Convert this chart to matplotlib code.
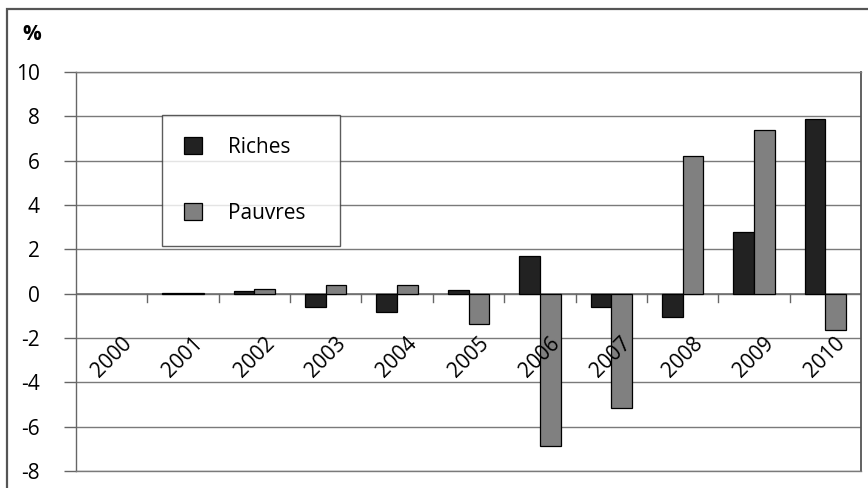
import matplotlib
matplotlib.use("Agg")
import matplotlib.pyplot as plt
from matplotlib.patches import Rectangle, Patch
import numpy as np

plt.rcParams['font.family'] = ['Open Sans', 'DejaVu Sans']
plt.rcParams['axes.unicode_minus'] = False

years = ["2000", "2001", "2002", "2003", "2004", "2005",
         "2006", "2007", "2008", "2009", "2010"]
riches = [np.nan, 0.02, 0.1, -0.6, -0.84, 0.15, 1.71, -0.62, -1.05, 2.78, 7.88]
pauvres = [np.nan, 0.05, 0.2, 0.4, 0.38, -1.37, -6.88, -5.18, 6.19, 7.39, -1.65]
series_names = ["Riches", "Pauvres"]
colors = ["#222222", "#808080"]

W, H = 868, 488
FS = 15
fig = plt.figure(figsize=(W / 100, H / 100), dpi=100)

# outer chart frame (runs off the right and bottom edges)
fig.patches.append(Rectangle((7 / W, -0.05), 1.1, (H - 9) / H + 0.05,
                             transform=fig.transFigure, fill=False,
                             edgecolor="#555555", linewidth=1.6))

L, R, T, B = 76, 861, 72, 471
ax = fig.add_axes([L / W, (H - B) / H, (R - L) / W, (B - T) / H])

x = np.arange(len(years))
bw = 0.29
ax.bar(x - bw / 2, riches, bw, color=colors[0], edgecolor="black",
       linewidth=0.9, zorder=3)
ax.bar(x + bw / 2, pauvres, bw, color=colors[1], edgecolor="black",
       linewidth=0.9, zorder=3)

ax.set_xlim(-0.5, len(years) - 0.5)
ax.set_ylim(-8, 10)
ax.set_yticks(np.arange(-8, 11, 2))
ax.yaxis.grid(True, color="#7a7a7a", linewidth=1.0, zorder=0)
ax.set_axisbelow(True)

for s in ["top", "bottom"]:
    ax.spines[s].set_color("#7a7a7a")
    ax.spines[s].set_linewidth(1.0)
ax.spines["left"].set_color("#666666")
ax.spines["left"].set_linewidth(1.0)
ax.spines["right"].set_color("#555555")
ax.spines["right"].set_linewidth(1.3)

# zero line with category boundary ticks
ax.axhline(0, color="#707070", linewidth=1.2, zorder=2)
for b in np.arange(0.5, len(years) - 0.5, 1):
    ax.plot([b, b], [0, -0.38], color="#666666", linewidth=1.0,
            zorder=2, clip_on=False)

ax.tick_params(axis="y", length=9, width=1.0, color="#666666",
               labelsize=FS, pad=17)
ax.set_xticks([])
for i, yr in enumerate(years):
    ax.text(i, -2.88, yr, rotation=45, ha="center", va="center",
            rotation_mode="anchor", fontsize=FS, zorder=4)

fig.text(32 / W, 1 - 35 / H, "%", fontsize=FS, fontweight="bold",
         ha="center", va="center")

handles = [Patch(facecolor=colors[0], edgecolor="black", linewidth=0.9),
           Patch(facecolor=colors[1], edgecolor="black", linewidth=0.9)]
x0 = (162 - L) / (R - L)
y1 = 1 - (115 - T) / (B - T)
wl = (340 - 162) / (R - L)
leg = ax.legend(handles, series_names, loc="upper left",
                bbox_to_anchor=(x0, y1 - 0.3, wl, 0.3), mode="expand",
                frameon=True, fancybox=False, fontsize=FS,
                handlelength=0.85, handleheight=0.85, handletextpad=1.25,
                labelspacing=2.15, borderpad=1.05, borderaxespad=0)
leg.get_frame().set_edgecolor("#333333")
leg.get_frame().set_linewidth(1.0)
leg.set_zorder(5)

fig.savefig("out.png", dpi=100)
